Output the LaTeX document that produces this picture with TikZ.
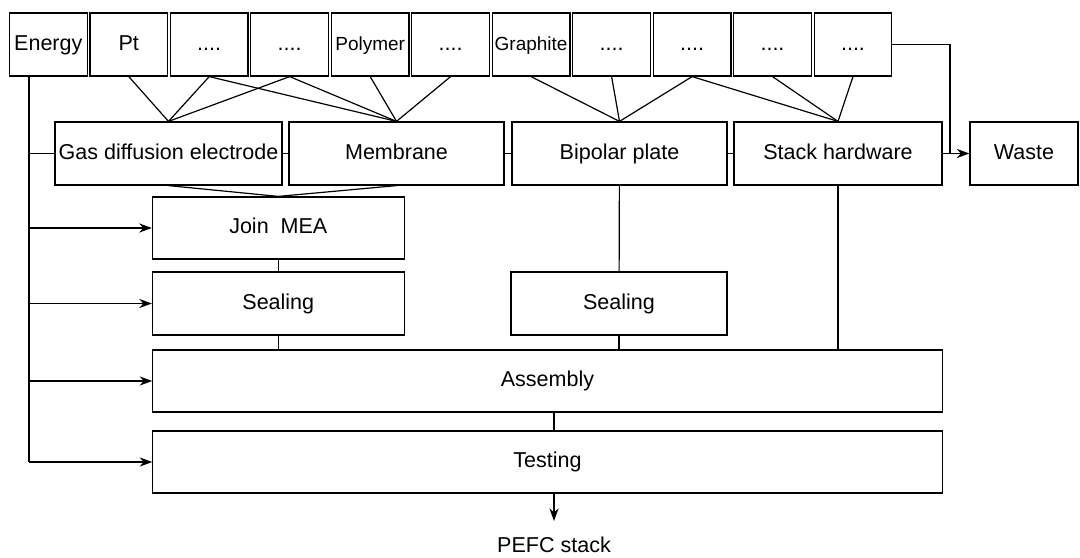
\documentclass[tikz,border=0pt]{standalone}
\usepackage{fontspec}
\setmainfont{Liberation Sans}
\usetikzlibrary{arrows.meta}
\tikzset{
  >={Stealth[length=9pt,width=6.5pt]},
  box/.style={draw, inner sep=0pt, minimum height=1.575cm,
    text height=0.8em, text depth=0pt,
    font=\fontsize{15.3}{18}\selectfont},
  matbox/.style={box, minimum width=1.94cm},
  narrow/.style={font=\fontsize{13.5}{16}\selectfont},
}
\begin{document}
\begin{tikzpicture}[x=0.025cm, y=-0.025cm, line width=0.85pt]
  \useasboundingbox (0,0) rectangle (1080,558);

  % raw materials
  \node[matbox] (energy) at (48.3,44.5) {Energy};
  \node[matbox] (pt) at (128.8,44.5) {Pt};
  \node[matbox] (dotsa) at (209.2,44.5) {....};
  \node[matbox] (dotsb) at (289.7,44.5) {....};
  \node[matbox, narrow] (polymer) at (370.2,44.5) {Polymer};
  \node[matbox] (dotsc) at (450.6,44.5) {....};
  \node[matbox, narrow] (graphite) at (531.1,44.5) {Graphite};
  \node[matbox] (dotsd) at (611.6,44.5) {....};
  \node[matbox] (dotse) at (692.1,44.5) {....};
  \node[matbox] (dotsf) at (772.5,44.5) {....};
  \node[matbox] (dotsg) at (853.0,44.5) {....};

  % components
  \node[box, minimum width=5.675cm] (gde) at (168.5,153.5) {Gas diffusion electrode};
  \node[box, minimum width=5.375cm] (membrane) at (396.5,153.5) {Membrane};
  \node[box, minimum width=5.375cm] (bipolar) at (619.5,153.5) {Bipolar plate};
  \node[box, minimum width=5.2cm] (stackhw) at (838,153.5) {Stack hardware};
  \node[box, minimum width=2.7cm] (waste) at (1024,153.5) {Waste};

  % process steps
  \node[box, minimum width=6.29cm, minimum height=1.55cm] (joinmea) at (278.3,228) {Join~ MEA};
  \node[box, minimum width=6.29cm] (sealmea) at (278.3,303.5) {Sealing};
  \node[box, minimum width=5.4cm] (sealbp) at (619,303.5) {Sealing};
  \node[box, minimum width=19.725cm, minimum height=1.55cm] (assembly) at (547.5,381) {Assembly};
  \node[box, minimum width=19.725cm, minimum height=1.55cm] (testing) at (547.5,462) {Testing};
  \node[font=\fontsize{15.3}{18}\selectfont, inner sep=2pt] (pefc) at (554,545) {PEFC stack};

  \coordinate (bus) at (29,0);
  \coordinate (wbend) at (950,0);

  % materials to components
  \draw (pt.south) -- (gde.north);
  \draw (dotsa.south) -- (gde.north);
  \draw (dotsb.south) -- (gde.north);
  \draw (dotsa.south) -- (membrane.north);
  \draw (dotsb.south) -- (membrane.north);
  \draw (polymer.south) -- (membrane.north);
  \draw (dotsc.south) -- (membrane.north);
  \draw (graphite.south) -- (bipolar.north);
  \draw (dotsd.south) -- (bipolar.north);
  \draw (dotse.south) -- (bipolar.north);
  \draw (dotse.south) -- (stackhw.north);
  \draw (dotsf.south) -- (stackhw.north);
  \draw (dotsg.south) -- (stackhw.north);

  \draw (gde) -- (membrane);
  \draw (membrane) -- (bipolar);
  \draw (bipolar) -- (stackhw);
  \draw (dotsg.east) -| (wbend |- waste.west);
  \draw[->] (stackhw.east) -- (waste.west);

  % energy supply
  \draw (energy.south -| bus) -- (testing.west -| bus);
  \draw (gde.west -| bus) -- (gde.west);
  \draw[->] (joinmea.west -| bus) -- (joinmea.west);
  \draw[->] (sealmea.west -| bus) -- (sealmea.west);
  \draw[->] (assembly.west -| bus) -- (assembly.west);
  \draw[->] (testing.west -| bus) -- (testing.west);

  % process flow
  \draw (gde.south) -- (joinmea.north);
  \draw (membrane.south) -- (joinmea.north);
  \draw (joinmea) -- (sealmea);
  \draw (sealmea.south) -- (sealmea.south |- assembly.north);
  \draw (bipolar) -- (sealbp);
  \draw (sealbp.south) -- (sealbp.south |- assembly.north);
  \draw (stackhw.south) -- (stackhw.south |- assembly.north);
  \draw (assembly.south -| pefc) -- (testing.north -| pefc);
  \draw[->, shorten >=9pt] (testing.south -| pefc) -- (pefc.north);
\end{tikzpicture}
\end{document}
